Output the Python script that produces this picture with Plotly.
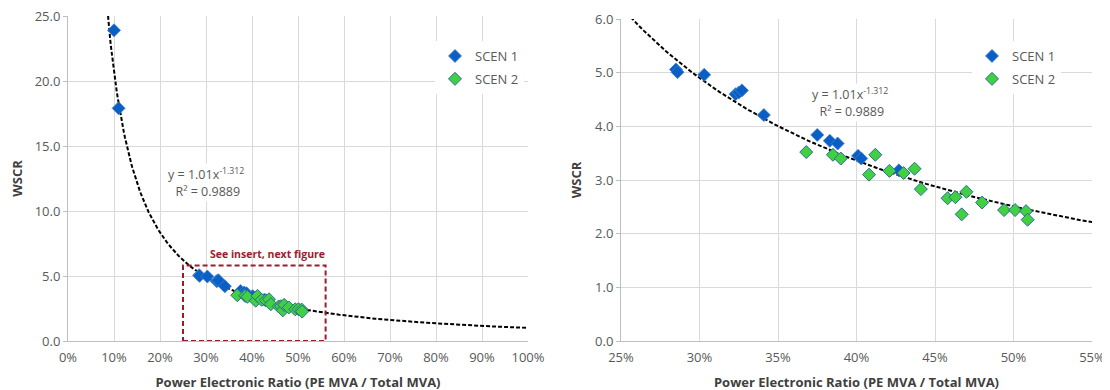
import numpy as np
import plotly.graph_objects as go

# ---------------- data ----------------
scen1_x = [0.100, 0.110, 0.285, 0.286, 0.303, 0.323, 0.325, 0.327, 0.341,
           0.375, 0.383, 0.388, 0.401, 0.403, 0.427]
scen1_y = [23.9, 17.9, 5.06, 5.01, 4.96, 4.60, 4.63, 4.67, 4.21,
           3.84, 3.73, 3.68, 3.45, 3.40, 3.18]

scen2_x = [0.368, 0.385, 0.390, 0.408, 0.412, 0.421, 0.430, 0.437, 0.441,
           0.458, 0.463, 0.467, 0.470, 0.480, 0.494, 0.501, 0.508, 0.509]
scen2_y = [3.52, 3.47, 3.40, 3.10, 3.47, 3.17, 3.13, 3.21, 2.83,
           2.66, 2.68, 2.36, 2.78, 2.58, 2.44, 2.44, 2.42, 2.26]

# power trendline shown on the chart: y = A * x^B
TREND_A = 1.01
TREND_B = -1.312
TREND_TEXT = "y = 1.01x<sup>-1.312</sup>"
R2_TEXT = "R² = 0.9889"

left_xticks = [i / 10 for i in range(0, 11)]
left_yticks = [0, 5, 10, 15, 20, 25]
right_xticks = [0.25, 0.30, 0.35, 0.40, 0.45, 0.50, 0.55]
right_yticks = [0, 1, 2, 3, 4, 5, 6]

inset_x = [0.25, 0.56]
inset_y = [0.0, 5.8]
inset_label = "See insert, next figure"

X_TITLE = "Power Electronic Ratio (PE MVA / Total MVA)"
Y_TITLE = "WSCR"

# ---------------- styles ----------------
FONT = "Open Sans"
BLUE = "#0a5fc4"
GREEN = "#3fd13f"
GREEN_EDGE = "#2f6a9a"
GRID = "#d9d9d9"
TICK = "#595959"
TITLE = "#404040"
RED = "#9b1c2e"
W, H = 1110, 390
PAGE_OFF = 8  # default body margin of the page

trend_x = np.linspace(0.08, 1.0, 400)
trend_y = TREND_A * trend_x ** TREND_B

fig = go.Figure()

for xa, ya, leg in [("x", "y", "legend"), ("x2", "y2", "legend2")]:
    fig.add_trace(go.Scatter(x=trend_x, y=trend_y, mode="lines", xaxis=xa, yaxis=ya,
                             line=dict(color="black", width=2, dash="4px,2px"),
                             showlegend=False, hoverinfo="skip"))
    fig.add_trace(go.Scatter(x=scen1_x, y=scen1_y, mode="markers", name="SCEN 1",
                             xaxis=xa, yaxis=ya, legend=leg, legendgroup="s1" + xa,
                             marker=dict(symbol="diamond", size=10, color=BLUE,
                                         line=dict(color="#3d7fd0", width=0.8))))
    fig.add_trace(go.Scatter(x=scen2_x, y=scen2_y, mode="markers", name="SCEN 2",
                             xaxis=xa, yaxis=ya, legend=leg, legendgroup="s2" + xa,
                             marker=dict(symbol="diamond", size=10, color=GREEN,
                                         line=dict(color=GREEN_EDGE, width=1))))

# inset rectangle on the left chart
fig.add_shape(type="rect", xref="x", yref="y", x0=inset_x[0], x1=inset_x[1],
              y0=inset_y[0], y1=inset_y[1],
              line=dict(color=RED, width=2, dash="5px,3px"), layer="above")
fig.add_annotation(xref="x", yref="y", x=sum(inset_x) / 2, y=inset_y[1],
                   yshift=12, xshift=13, text=f"<b>{inset_label}</b>", showarrow=False,
                   font=dict(family=FONT, size=10.5, color=RED))

# equations
for xr, yr, xpos, ypos in [("x", "y", 0.30, 12.2), ("x2", "y2", 0.396, 4.44)]:
    fig.add_annotation(xref=xr, yref=yr, x=xpos, y=ypos, text=TREND_TEXT + "<br> " + R2_TEXT,
                       showarrow=False, align="center", bgcolor="white",
                       font=dict(family=FONT, size=12.5, color=TICK))

axis_common = dict(showgrid=True, gridcolor=GRID, gridwidth=1, zeroline=False,
                   showline=True, linecolor="#bfbfbf", linewidth=1, automargin=False,
                   ticklabeloverflow="allow",
                   tickfont=dict(family=FONT, size=13, color=TICK),
                   title_font=dict(family=FONT, size=13, color=TITLE))
x_ticks = dict(ticks="outside", ticklen=4, tickcolor="rgba(0,0,0,0)")
y_ticks = dict(ticks="outside", ticklen=4, tickcolor="#bfbfbf")


def px_x(v):
    return (v - PAGE_OFF) / W


fig.update_layout(
    width=W, height=H,
    margin=dict(l=0, r=0, t=16 - PAGE_OFF, b=H - (341 - PAGE_OFF)),
    paper_bgcolor="white", plot_bgcolor="white",
    font=dict(family=FONT, color=TICK),
    xaxis=dict(domain=[px_x(68), px_x(528)], range=[0, 1.0], tickvals=left_xticks,
               tickformat=".0%", title=dict(text=f"<b>{X_TITLE}</b>", standoff=13),
               anchor="y", **x_ticks, **axis_common),
    yaxis=dict(domain=[0, 1], range=[0, 25], tickvals=left_yticks, tickformat=".1f",
               title=dict(text=f"<b>{Y_TITLE}</b>", standoff=10), anchor="x",
               **y_ticks, **axis_common),
    xaxis2=dict(domain=[px_x(621), px_x(1092)], range=[0.25, 0.55], tickvals=right_xticks,
                tickformat=".0%", title=dict(text=f"<b>{X_TITLE}</b>", standoff=13),
                anchor="y2", **x_ticks, **axis_common),
    yaxis2=dict(domain=[0, 1 - 3 / 325], range=[0, 6], tickvals=right_yticks, tickformat=".1f",
                title=dict(text=f"<b>{Y_TITLE}</b>", standoff=10), anchor="x2",
                **y_ticks, **axis_common),
    legend=dict(x=427 / W, y=1 - 25 / 325, xanchor="left", yanchor="top",
                bgcolor="white", font=dict(family=FONT, size=13, color=TICK),
                tracegroupgap=3, itemwidth=30),
    legend2=dict(x=964 / W, y=1 - 25 / 325, xanchor="left", yanchor="top",
                 bgcolor="white", font=dict(family=FONT, size=13, color=TICK),
                 tracegroupgap=3, itemwidth=30),
)

fig.write_html("out.html")
